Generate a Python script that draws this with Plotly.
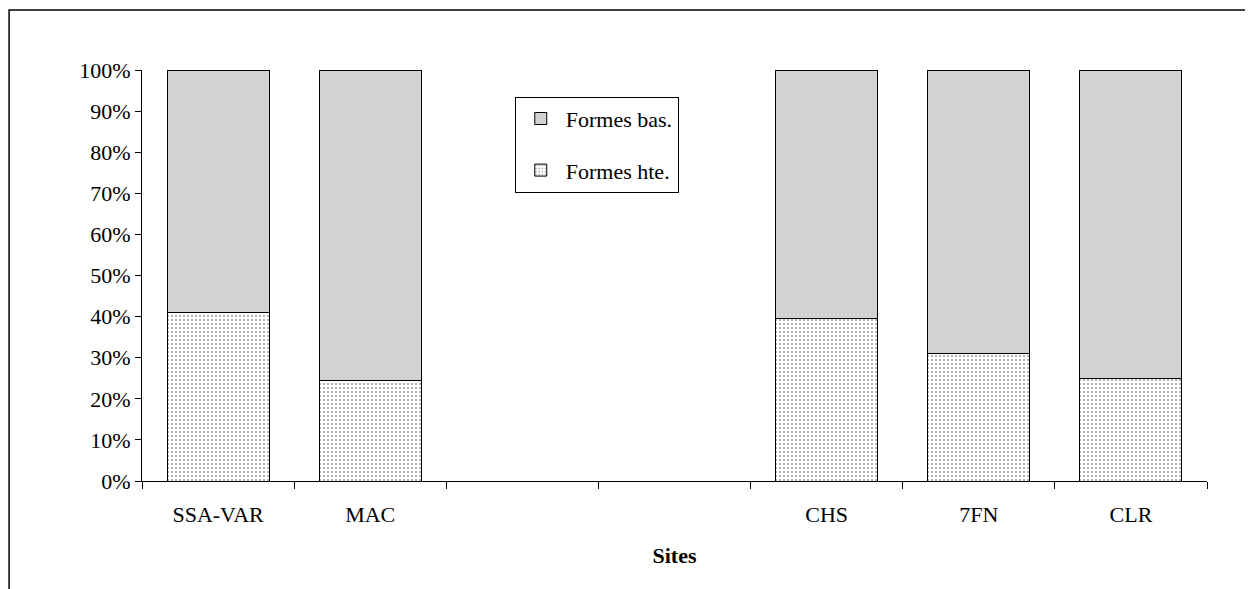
import plotly.graph_objects as go

sites = ["SSA-VAR", "MAC", " ", "  ", "CHS", "7FN", "CLR"]
formes_hte = [41, 24.5, None, None, 39.5, 31, 25]
formes_bas = [59, 75.5, None, None, 60.5, 69, 75]
y_ticks = list(range(0, 101, 10))
y_labels = [f"{v}%" for v in y_ticks]

serif = "Liberation Serif"

fig = go.Figure()
fig.add_trace(go.Bar(
    x=sites, y=formes_hte, name="Formes hte.", legendgroup="hte", legendrank=2,
    marker=dict(color="white", line=dict(color="black", width=1),
                pattern=dict(shape=".", fgcolor="#333333", bgcolor="white", size=4, solidity=0.2)),
))
fig.add_trace(go.Bar(
    x=sites, y=formes_bas, name="Formes bas.", legendgroup="bas", legendrank=1,
    marker=dict(color="#d0d0d0", line=dict(color="black", width=1),
                pattern=dict(shape="|", fgcolor="#c4c4c4", bgcolor="#d3d3d3", size=4, solidity=0.2)),
))

# page body adds an 8px offset; margins compensate
fig.update_layout(
    barmode="stack",
    bargap=0.33,
    width=1245, height=581,
    margin=dict(l=134, r=46, t=62, b=108),
    plot_bgcolor="white", paper_bgcolor="white",
    font=dict(family=serif, size=22, color="black"),
    showlegend=True,
    legend=dict(
        x=0.35, y=0.935, xanchor="left", yanchor="top",
        bordercolor="black", borderwidth=1, bgcolor="white",
        traceorder="grouped", font=dict(family=serif, size=22),
        tracegroupgap=20, itemwidth=40,
    ),
    shapes=[dict(type="rect", xref="paper", yref="paper",
                 x0=-0.1248, x1=1.05, y0=-0.3, y1=1.146,
                 line=dict(color="black", width=1.5), fillcolor="rgba(0,0,0,0)")],
    yaxis2=dict(overlaying="y", range=[0, 100], tickmode="array", tickvals=y_ticks,
                showticklabels=False, ticks="inside", ticklen=5, tickcolor="black",
                showgrid=False, zeroline=False, showline=False),
)
fig.update_xaxes(
    type="category", categoryorder="array", categoryarray=sites,
    showline=True, linecolor="black", linewidth=1,
    ticks="outside", tickson="boundaries", ticklen=7, tickcolor="black",
    ticklabelstandoff=14,
    showgrid=False,
    title=dict(text="<b>Sites</b>", font=dict(family=serif, size=22), standoff=21),
)
fig.layout.yaxis.update(range=[0, 100], tickmode="array", tickvals=y_ticks, ticktext=y_labels,
                        showline=True, linecolor="black", linewidth=1,
                        ticks="outside", ticklen=6, tickcolor="black",
                        showgrid=False, zeroline=False)

fig.write_html("out.html")
